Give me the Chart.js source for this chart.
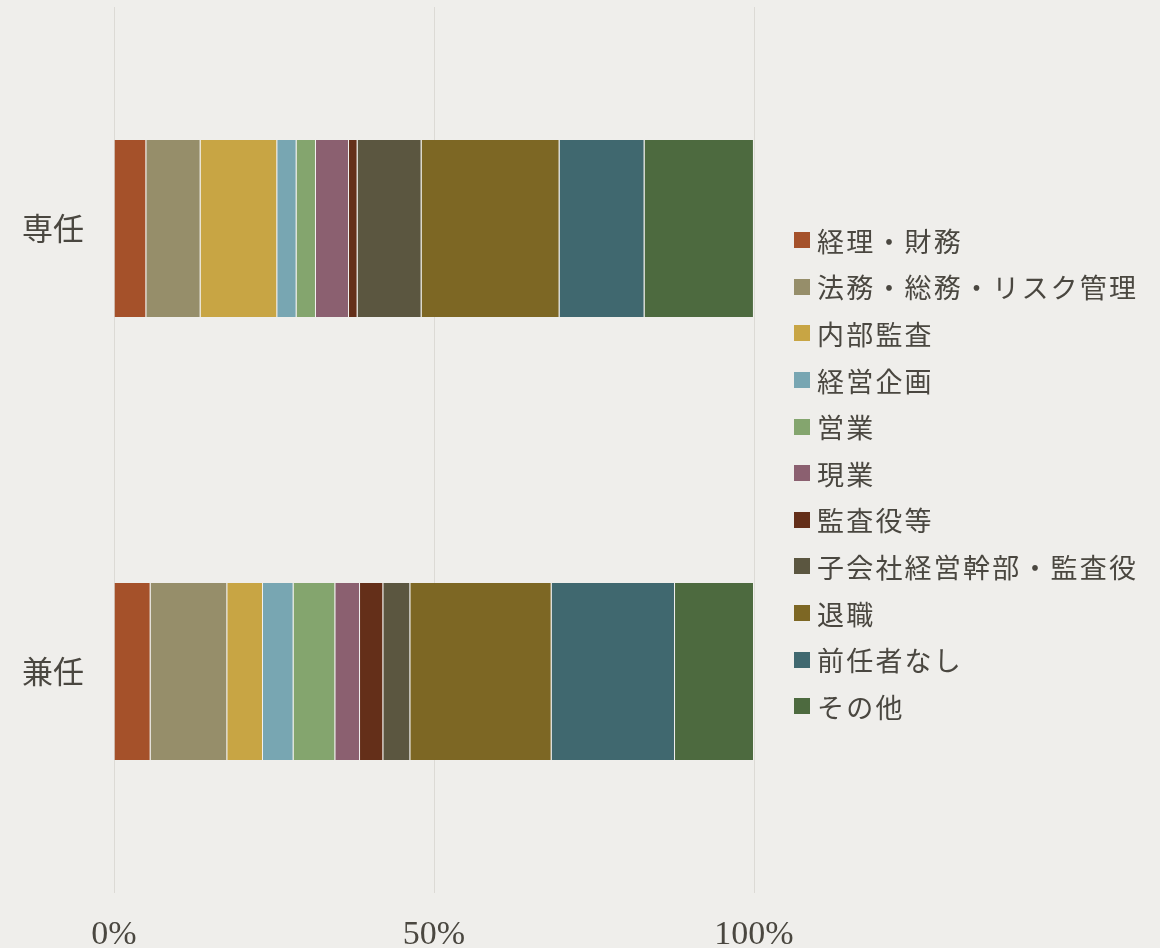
<!DOCTYPE html>
<html lang="ja">
<head>
<meta charset="utf-8">
<script src="https://cdn.jsdelivr.net/npm/chart.js@4"></script>
<style>
  html, body { margin: 0; padding: 0; }
  body {
    width: 1160px; height: 948px; overflow: hidden;
    background: #efeeeb;
    font-family: "Noto Sans CJK JP", "Noto Sans", sans-serif;
  }
  #wrap { position: relative; width: 1160px; height: 948px; }
  canvas { display: block; }
  #legend {
    position: absolute; left: 794px; top: 217px;
    list-style: none; margin: 0; padding: 0;
  }
  #legend li {
    height: 46.6px; display: flex; align-items: center;
    font-size: 27px; color: #4a4740; letter-spacing: 2.2px;
  }
  #legend .sw { width: 16px; height: 16px; margin-right: 7px; flex: none; }
</style>
</head>
<body>
<div id="wrap">
  <canvas id="chart" width="1160" height="948"></canvas>
  <ul id="legend"></ul>
</div>
<script>
// ===== Data =====
const categories = ['専任', '兼任'];
const seriesNames = [
  '経理・財務', '法務・総務・リスク管理', '内部監査', '経営企画', '営業', '現業',
  '監査役等', '子会社経営幹部・監査役', '退職', '前任者なし', 'その他'
];
const senninValues = [5.05, 8.48, 11.98, 3.02, 3.03, 5.16, 1.34, 10.0, 21.56, 13.28, 17.09];
const kenninValues = [5.72, 11.98, 5.58, 4.78, 6.52, 3.86, 3.64, 4.22, 22.08, 19.28, 12.34];
const xTicks = [0, 50, 100];

const colors = [
  '#a5512a', '#968e6a', '#c8a544', '#78a6b2', '#84a56e', '#8b6070',
  '#642f19', '#5b5640', '#7d6724', '#40686f', '#4d6a3f'
];

// ===== Chart =====
const datasets = seriesNames.map((name, i) => ({
  label: name,
  data: [senninValues[i], kenninValues[i]],
  backgroundColor: colors[i],
  borderColor: 'rgba(255, 255, 255, 0.18)',
  borderWidth: { left: 0, right: 1, top: 0, bottom: 0 },
  borderSkipped: false,
  barPercentage: 0.4,
  categoryPercentage: 1.0
}));

new Chart(document.getElementById('chart'), {
  type: 'bar',
  data: { labels: categories, datasets: datasets },
  options: {
    indexAxis: 'y',
    responsive: false,
    animation: false,
    layout: { padding: { left: 22, right: 406, top: 7, bottom: 0 } },
    plugins: { legend: { display: false }, tooltip: { enabled: false } },
    scales: {
      x: {
        stacked: true,
        min: 0, max: 100,
        afterBuildTicks: axis => { axis.ticks = xTicks.map(v => ({ value: v })); },
        afterFit: s => { s.height = 55; s.paddingLeft = 0; s.paddingRight = 0; },
        grid: { color: '#dcdad5', lineWidth: 1, drawTicks: false },
        border: { display: false },
        ticks: {
          callback: v => v + '%',
          color: '#4a4740',
          padding: 22,
          maxRotation: 0,
          font: { family: '"Liberation Serif", serif', size: 34 }
        }
      },
      y: {
        stacked: true,
        afterFit: s => { s.width = 92; s.paddingTop = 0; s.paddingBottom = 0; },
        grid: { display: false, drawTicks: false },
        border: { display: false },
        ticks: {
          color: '#4a4740',
          padding: 30,
          font: { family: '"Noto Sans CJK JP", sans-serif', size: 31 }
        }
      }
    }
  }
});

// ===== Legend =====
const legend = document.getElementById('legend');
seriesNames.forEach((name, i) => {
  const li = document.createElement('li');
  li.innerHTML = `<span class="sw" style="background:${colors[i]}"></span><span>${name}</span>`;
  legend.appendChild(li);
});
</script>
</body>
</html>
